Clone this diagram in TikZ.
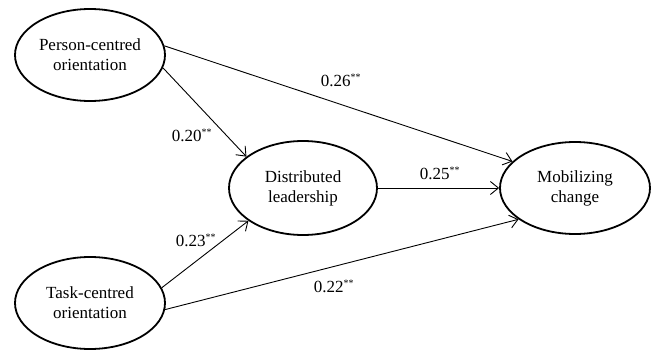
\documentclass[tikz,border=0pt]{standalone}
\usepackage{fontspec}
\setmainfont{Liberation Serif}
\usetikzlibrary{shapes.geometric,arrows.meta}
\tikzset{
  construct/.style={ellipse,draw,line width=1.8pt,minimum width=150pt,minimum height=92pt,
    inner sep=0pt,align=center,font=\fontsize{17}{20}\selectfont},
  path/.style={line width=0.9pt,-{Straight Barb[length=8pt,width=13pt,line width=0.9pt]}},
  coef/.style={font=\fontsize{17}{20}\selectfont,inner sep=0pt}
}
\newcommand{\sig}{\textsuperscript{\fontsize{10}{10}\selectfont **}}
\begin{document}
\begin{tikzpicture}[x=1pt,y=-1pt]
  \useasboundingbox (0,0) rectangle (657,351);
  \node[construct] (pc) at (90,55) {Person-centred\\orientation};
  \node[construct] (tc) at (90,303) {Task-centred\\orientation};
  \node[construct,minimum width=148pt,minimum height=94pt] (dl) at (303,188) {Distributed\\leadership};
  \node[construct] (mc) at (575,188) {Mobilizing\\change};

  \draw[path] (pc.7) -- (mc.157);
  \draw[path] (pc.-10) -- (dl.151);
  \draw[path] (dl.east) -- (mc.west);
  \draw[path] (tc.12) -- (dl.-149);
  \draw[path] (tc.-5) -- (mc.-151);

  \node[coef] (c1) at (341,80) {0.26\sig};
  \node[coef] (c2) at (192,135) {0.20\sig};
  \node[coef] (c3) at (440,173) {0.25\sig};
  \node[coef] (c4) at (196,240) {0.23\sig};
  \node[coef] (c5) at (334,286) {0.22\sig};
\end{tikzpicture}
\end{document}
